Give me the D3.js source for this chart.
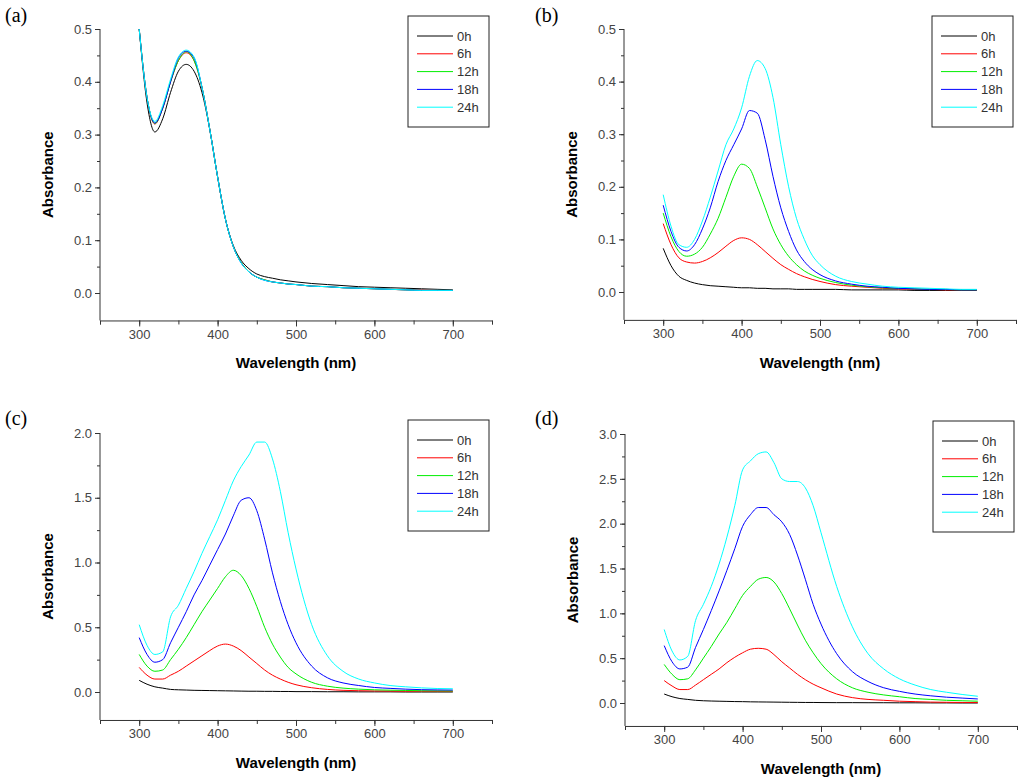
<!DOCTYPE html>
<html><head><meta charset="utf-8">
<script src="https://cdn.jsdelivr.net/npm/d3@7"></script>
<style>body{margin:0;background:#fff}svg{display:block}</style>
</head><body>
<svg id="chart" width="1024" height="784"></svg>
<script>
// wavelengths (nm) shared by every curve
var wl = [300,310,320,330,340,350,360,370,380,390,400,410,420,430,440,450,460,470,480,490,500,520,540,560,580,600,620,640,660,680,700];
var times = ["0h","6h","12h","18h","24h"];
var colors = ["#000000","#ff0000","#00ee00","#0000ff","#00ffff"];

// panel (a)
var a0h  = [0.50,0.36,0.305,0.33,0.38,0.42,0.433,0.42,0.38,0.31,0.22,0.14,0.09,0.062,0.046,0.036,0.031,0.028,0.025,0.023,0.021,0.018,0.016,0.014,0.012,0.011,0.010,0.009,0.008,0.007,0.006];
var a6h  = [0.50,0.37,0.320,0.35,0.40,0.44,0.455,0.44,0.39,0.31,0.22,0.14,0.088,0.058,0.040,0.030,0.025,0.021,0.019,0.017,0.016,0.013,0.012,0.010,0.009,0.008,0.007,0.006,0.006,0.005,0.005];
var a12h = [0.50,0.37,0.321,0.35,0.40,0.44,0.457,0.44,0.39,0.31,0.22,0.14,0.088,0.058,0.040,0.030,0.025,0.021,0.019,0.017,0.016,0.013,0.012,0.010,0.009,0.008,0.007,0.006,0.005,0.005,0.005];
var a18h = [0.50,0.37,0.322,0.35,0.40,0.445,0.458,0.445,0.39,0.31,0.22,0.14,0.088,0.057,0.040,0.030,0.024,0.021,0.019,0.017,0.016,0.013,0.012,0.010,0.009,0.008,0.007,0.006,0.005,0.005,0.005];
var a24h = [0.50,0.37,0.325,0.355,0.405,0.447,0.460,0.447,0.39,0.31,0.22,0.14,0.088,0.057,0.040,0.030,0.024,0.021,0.019,0.017,0.016,0.013,0.012,0.010,0.009,0.008,0.007,0.006,0.005,0.005,0.005];

// panel (b)
var b0h  = [0.083,0.05,0.03,0.022,0.017,0.014,0.012,0.011,0.010,0.009,0.008,0.008,0.007,0.007,0.006,0.006,0.006,0.005,0.005,0.005,0.005,0.005,0.004,0.004,0.004,0.004,0.003,0.003,0.003,0.003,0.003];
var b6h  = [0.13,0.09,0.065,0.057,0.055,0.058,0.065,0.075,0.087,0.098,0.103,0.10,0.09,0.077,0.064,0.052,0.043,0.035,0.029,0.024,0.020,0.014,0.011,0.009,0.007,0.006,0.005,0.005,0.004,0.004,0.004];
var b12h = [0.15,0.105,0.077,0.068,0.072,0.085,0.11,0.14,0.18,0.22,0.243,0.235,0.20,0.16,0.12,0.09,0.068,0.052,0.040,0.032,0.026,0.018,0.013,0.010,0.008,0.007,0.006,0.005,0.005,0.004,0.004];
var b18h = [0.165,0.115,0.085,0.078,0.09,0.12,0.16,0.21,0.25,0.28,0.31,0.345,0.34,0.29,0.22,0.16,0.115,0.08,0.058,0.043,0.033,0.021,0.015,0.011,0.009,0.007,0.006,0.005,0.005,0.004,0.004];
var b24h = [0.185,0.125,0.09,0.085,0.10,0.135,0.18,0.23,0.28,0.31,0.35,0.41,0.44,0.425,0.37,0.28,0.20,0.14,0.10,0.07,0.052,0.030,0.020,0.015,0.011,0.009,0.008,0.007,0.006,0.005,0.005];

// panel (c)
var c0h  = [0.09,0.06,0.04,0.03,0.02,0.017,0.015,0.013,0.012,0.011,0.010,0.009,0.008,0.007,0.006,0.006,0.005,0.005,0.004,0.004,0.003,0.003,0.002,0.002,0.001,0.001,0.001,0,0,0,0];
var c6h  = [0.19,0.13,0.10,0.10,0.13,0.16,0.20,0.24,0.28,0.32,0.355,0.37,0.355,0.32,0.27,0.22,0.17,0.13,0.10,0.075,0.056,0.033,0.020,0.013,0.010,0.008,0.007,0.006,0.006,0.005,0.005];
var c12h = [0.29,0.20,0.16,0.17,0.25,0.33,0.42,0.52,0.62,0.71,0.80,0.89,0.94,0.90,0.80,0.66,0.50,0.37,0.27,0.19,0.14,0.075,0.045,0.030,0.022,0.017,0.014,0.012,0.010,0.009,0.008];
var c18h = [0.42,0.29,0.23,0.25,0.38,0.50,0.62,0.75,0.86,0.98,1.10,1.22,1.36,1.48,1.50,1.40,1.18,0.92,0.70,0.52,0.38,0.20,0.11,0.07,0.05,0.035,0.028,0.022,0.018,0.016,0.015];
var c24h = [0.52,0.36,0.29,0.31,0.58,0.67,0.80,0.93,1.07,1.20,1.33,1.48,1.63,1.74,1.83,1.93,1.93,1.80,1.55,1.23,0.95,0.52,0.28,0.16,0.10,0.07,0.05,0.04,0.032,0.027,0.025];

// panel (d)
var d0h  = [0.10,0.07,0.05,0.04,0.03,0.025,0.022,0.02,0.018,0.016,0.015,0.013,0.012,0.011,0.010,0.009,0.008,0.007,0.006,0.006,0.005,0.004,0.004,0.003,0.003,0.002,0.002,0.001,0.001,0,0];
var d6h  = [0.25,0.19,0.15,0.15,0.20,0.26,0.32,0.38,0.45,0.51,0.56,0.60,0.61,0.60,0.54,0.46,0.39,0.32,0.26,0.21,0.17,0.10,0.06,0.04,0.03,0.02,0.015,0.01,0.008,0.006,0.005];
var d12h = [0.43,0.32,0.26,0.27,0.37,0.50,0.63,0.77,0.90,1.05,1.20,1.30,1.38,1.40,1.35,1.22,1.05,0.87,0.70,0.56,0.44,0.27,0.17,0.12,0.09,0.07,0.05,0.04,0.03,0.025,0.02];
var d18h = [0.64,0.46,0.38,0.40,0.62,0.82,1.03,1.25,1.48,1.72,1.97,2.10,2.18,2.18,2.10,2.02,1.88,1.65,1.38,1.10,0.88,0.55,0.35,0.24,0.17,0.13,0.10,0.08,0.065,0.055,0.045];
var d24h = [0.82,0.58,0.48,0.52,0.92,1.10,1.30,1.55,1.85,2.20,2.60,2.70,2.78,2.80,2.68,2.50,2.47,2.47,2.40,2.20,1.90,1.30,0.85,0.55,0.38,0.27,0.20,0.15,0.12,0.095,0.075];

var xTicks = [300,400,500,600,700];
var yTicksAB = [0.0,0.1,0.2,0.3,0.4,0.5];
var yTicksC = [0.0,0.5,1.0,1.5,2.0];
var yTicksD = [0.0,0.5,1.0,1.5,2.0,2.5,3.0];

var panels = [
  {tag:"(a)", series:[a0h,a6h,a12h,a18h,a24h], ticks:yTicksAB, minor:0.05, ymin:-0.052, left:100, top:29, zero:293, tx:5, ty:22},
  {tag:"(b)", series:[b0h,b6h,b12h,b18h,b24h], ticks:yTicksAB, minor:0.05, ymin:-0.053, left:624, top:29, zero:292, tx:535, ty:22},
  {tag:"(c)", series:[c0h,c6h,c12h,c18h,c24h], ticks:yTicksC, minor:0.25, ymin:-0.216, left:100, top:433, zero:692, tx:5, ty:425},
  {tag:"(d)", series:[d0h,d6h,d12h,d18h,d24h], ticks:yTicksD, minor:0.25, ymin:-0.256, left:625, top:434, zero:703, tx:535, ty:425}
];

var svg = d3.select("#chart");

panels.forEach(function(p) {
  var ymax = p.ticks[p.ticks.length - 1];
  var x = d3.scaleLinear().domain([250, 750]).range([p.left, p.left + 392]);
  var y = d3.scaleLinear().domain([0, ymax]).range([p.zero, p.top]);
  var g = svg.append("g");

  svg.append("text").attr("x", p.tx).attr("y", p.ty)
      .attr("font-family", "Liberation Serif, serif").attr("font-size", 20)
      .text(p.tag);

  var minorX = d3.range(250, 751, 50);
  var minorY = d3.range(0, ymax + 1e-9, p.minor);

  // x axis
  var xa = g.append("g").attr("transform", "translate(0," + y(p.ymin) + ")");
  xa.call(d3.axisBottom(x).tickValues(minorX).tickSize(4).tickFormat(""));
  var xa2 = g.append("g").attr("transform", "translate(0," + y(p.ymin) + ")");
  xa2.call(d3.axisBottom(x).tickValues(xTicks).tickSize(6).tickFormat(d3.format("d")));
  xa2.select(".domain").remove();

  // y axis
  var ya = g.append("g").attr("transform", "translate(" + p.left + ",0)");
  ya.call(d3.axisLeft(y).tickValues(minorY).tickSize(3).tickFormat(""));
  ya.select(".domain").attr("d", "M0," + y(p.ymin) + "V" + p.top);
  var ya2 = g.append("g").attr("transform", "translate(" + p.left + ",0)");
  ya2.call(d3.axisLeft(y).tickValues(p.ticks).tickSize(5).tickFormat(d3.format(".1f")));
  ya2.select(".domain").remove();

  g.selectAll(".tick text").attr("font-family", "Liberation Sans, Arial, sans-serif")
      .attr("font-size", 13).attr("fill", "#444");
  g.selectAll("path.domain, .tick line").attr("stroke", "#333");

  svg.append("text")
      .attr("transform", "translate(" + (p.left - 47) + "," + ((p.top + y(p.ymin)) / 2) + ") rotate(-90)")
      .attr("text-anchor", "middle")
      .attr("font-family", "Liberation Sans, Arial, sans-serif").attr("font-weight", "bold").attr("font-size", 15)
      .text("Absorbance");
  svg.append("text")
      .attr("x", x(500)).attr("y", y(p.ymin) + 48)
      .attr("text-anchor", "middle")
      .attr("font-family", "Liberation Sans, Arial, sans-serif").attr("font-weight", "bold").attr("font-size", 15)
      .text("Wavelength (nm)");

  var line = d3.line()
      .x(function(d, i) { return x(wl[i]); })
      .y(function(d) { return y(d); })
      .curve(d3.curveMonotoneX);

  g.selectAll(".curve").data(p.series).enter().append("path")
      .attr("class", "curve")
      .attr("fill", "none")
      .attr("stroke", function(d, i) { return colors[i]; })
      .attr("stroke-width", 1)
      .attr("d", line);

  // legend
  var lx = p.left + 308, ly = p.top - 13;
  var leg = svg.append("g").attr("transform", "translate(" + lx + "," + ly + ")");
  leg.append("rect").attr("width", 81).attr("height", 111)
      .attr("fill", "#fff").attr("stroke", "#222").attr("stroke-width", 1);
  var row = leg.selectAll(".row").data(times).enter().append("g")
      .attr("transform", function(d, i) { return "translate(0," + (20 + i * 17.8) + ")"; });
  row.append("line").attr("x1", 9).attr("x2", 45)
      .attr("stroke", function(d, i) { return colors[i]; });
  row.append("text").attr("x", 49).attr("dy", "0.35em")
      .attr("font-family", "Liberation Sans, Arial, sans-serif").attr("font-size", 13).attr("fill", "#333")
      .text(function(d) { return d; });
});
</script>
</body></html>
